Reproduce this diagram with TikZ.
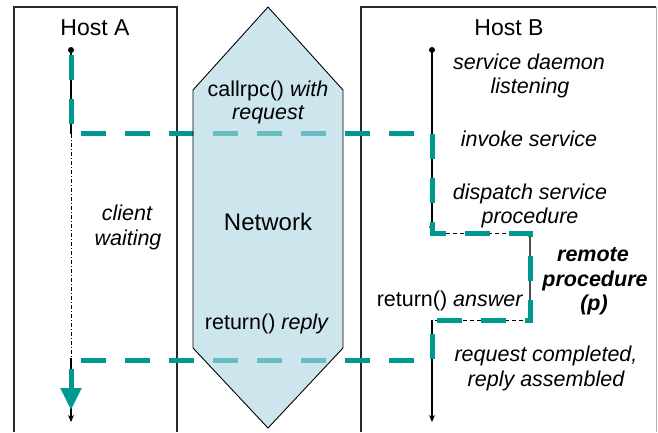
\documentclass[tikz,border=0pt]{standalone}
\usepackage{fontspec}
\setmainfont{Liberation Sans}
\usetikzlibrary{arrows.meta}
\definecolor{tealc}{RGB}{0,153,143}
\definecolor{netfill}{RGB}{172,213,227}
\definecolor{boxgray}{RGB}{40,40,40}
\begin{document}
\begin{tikzpicture}[x=1pt,y=-1pt,
  boxline/.style={draw=boxgray,line width=1.1pt},
  tline/.style={draw=black,line width=1.3pt},
  waitline/.style={draw=black,line width=0.8pt,dash pattern=on 4pt off 2pt on 1pt off 2pt},
  thindash/.style={draw=black,line width=0.8pt,dash pattern=on 4pt off 3pt},
  tealpath/.style={draw=tealc,line width=5pt,dash pattern=on 25pt off 19pt,line join=miter},
  txt/.style={anchor=base,inner sep=0pt,font=\fontsize{21.5}{25}\selectfont},
  itxt/.style={txt,font=\fontsize{21.5}{25}\selectfont\itshape},
  btxt/.style={txt,font=\fontsize{21.5}{25}\selectfont\bfseries\itshape},
  host/.style={txt,font=\fontsize{23}{27}\selectfont},
  smallarrow/.style={-{Stealth[length=7pt,width=6pt]}}
]
\useasboundingbox (0,0) rectangle (658,432);

% host boxes
\draw[boxline] (14,432) -- (14,7) -- (177,7) -- (177,432);
\draw[boxline] (361,432) -- (361,7) -- (656,7);
\draw[draw=black!30,line width=1pt] (656,7) -- (656,432);

% coordinates
\coordinate (a0) at (71,50);
\coordinate (a1) at (71,134);
\coordinate (a2) at (71,358);
\coordinate (a3) at (71,422);
\coordinate (b0) at (432,50);
\coordinate (b1) at (432,233);
\coordinate (b2) at (530,233);
\coordinate (b3) at (530,320);
\coordinate (b4) at (432,320);
\coordinate (b5) at (432,422);

% timelines
\fill (a0) circle (3);
\draw[tline] (a0) -- (a1);
\draw[waitline] (a1) -- (a2);
\draw[tline,smallarrow] (a2) -- (a3);

\fill (b0) circle (3);
\draw[tline,smallarrow] (b0) -- (b1);
\draw[thindash] (b1) -- (b2);
\draw[draw=black!70,line width=1.3pt] (b2) -- (b3);
\draw[thindash] (b3) -- (b4);
\draw[tline,smallarrow] (b4) -- (b5);

% teal call path
\coordinate (t0) at (71,55);
\coordinate (t1) at (71,133);
\coordinate (t2) at (432,133);
\coordinate (t3) at (432,233);
\coordinate (t4) at (530,233);
\coordinate (t5) at (530,320);
\coordinate (t6) at (432,320);
\coordinate (t7) at (432,360);
\coordinate (t8) at (71,360);
\coordinate (t9) at (71,410);
\draw[tealpath] (t0) -- (t1) -- (t2) -- (t3) -- (t4) -- (t5) -- (t6) -- (t7) -- (t8) -- (t9);
\draw[draw=tealc,line width=5pt,-{Triangle[length=22pt,width=20pt]}] (71,395) -- (t9);

% network
\filldraw[fill=netfill,fill opacity=0.6,draw=black,line width=0.9pt]
  (268,7) -- (343,90) -- (343,348) -- (268,428) -- (193,348) -- (193,90) -- cycle;

% texts
\node[host] (hA) at (95,35) {Host A};
\node[host] (hB) at (509,35) {Host B};

\node[txt] (call1) at (268,96) {callrpc() \textit{with}};
\node[itxt] (call2) at (268,119) {request};
\node[txt,font=\fontsize{24}{28}\selectfont] (net) at (268,230) {Network};
\node[txt] (rep) at (267,329) {return() \textit{reply}};

\node[itxt] (cw1) at (127,220) {client};
\node[itxt] (cw2) at (128,245) {waiting};

\node[itxt] (s1) at (529,69) {service daemon};
\node[itxt] (s2) at (530,93) {listening};
\node[itxt] (inv) at (529,146) {invoke service};
\node[itxt] (d1) at (530,199) {dispatch service};
\node[itxt] (d2) at (530,223) {procedure};
\node[btxt] (r1) at (593,261) {remote};
\node[btxt] (r2) at (595,286) {procedure};
\node[btxt] (r3) at (594,310) {(p)};
\node[txt] (ans) at (450,306) {return() \textit{answer}};
\node[itxt] (c1) at (546,361) {request completed,};
\node[itxt] (c2) at (546,386) {reply assembled};
\end{tikzpicture}
\end{document}
